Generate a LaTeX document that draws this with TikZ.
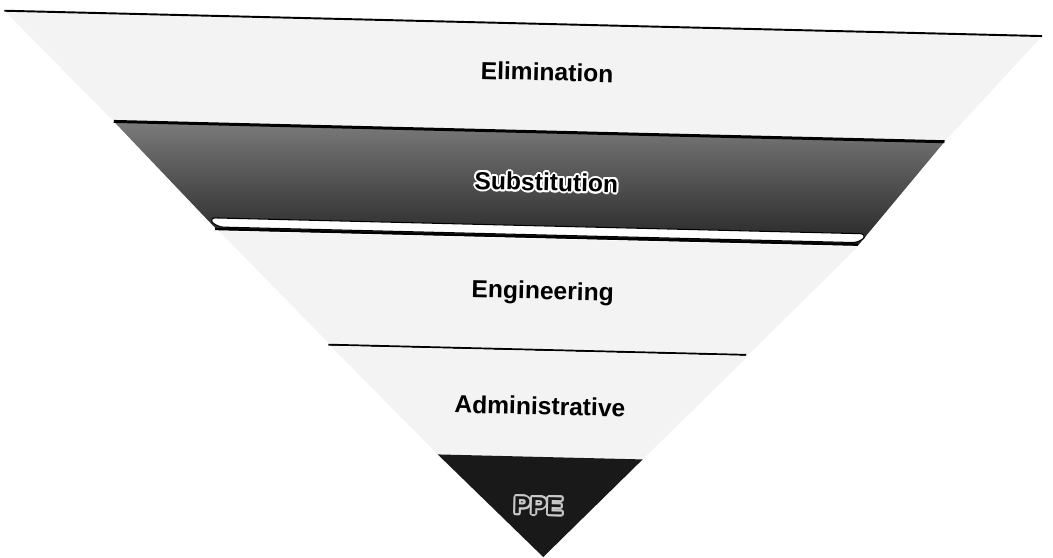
\documentclass[tikz,border=0pt]{standalone}
\usepackage{fontspec}
\setmainfont{Liberation Sans}
\usepackage[copies]{contour}
\usepackage{tikz}
\usetikzlibrary{calc}
\definecolor{myspeck}{RGB}{243,243,243}
\definecolor{mydark}{RGB}{25,25,25}
\definecolor{myhalo}{RGB}{200,200,200}
\contourlength{1.1pt}
\tikzset{
  lightband/.style={fill=myspeck, draw=none},
  darkband/.style={top color=black!52, bottom color=black!85, draw=none},
  ppeband/.style={fill=mydark, draw=none},
  edge/.style={line width=1.1pt, color=black},
  level/.style={font=\fontsize{14}{16}\selectfont\bfseries, text=black, inner sep=1pt, transform shape}
}

\begin{document}
\begin{tikzpicture}[x=0.02cm, y=-0.02cm]
  \fill[white] (0,0) rectangle (1053,557);
  \useasboundingbox (0,0) rectangle (1053,557);

  \begin{scope}[rotate around={-1.4:(545,280)}]
    % Elimination
    \fill[lightband] (-2,24) -- (1036,24) -- (941,132) -- (110,132) -- cycle;
    \draw[edge] (-2,24) -- (1036,24);
    \node[level] (elim) at (542,72) {Elimination};

    % Substitution
    \shade[darkband] (110,132) -- (941,132) -- (857,238) -- (216,238) -- cycle;
    \draw[edge, line width=1.7pt] (110,132) -- (941,132);
    \filldraw[fill=white, draw=black, line width=0.6pt, rounded corners=4pt]
      (207,226) -- (866,226) -- (859,235) -- (215,235) -- cycle;
    \draw[edge, line width=1.4pt] (214,237) -- (857,237);
    \node[level] (subst) at (544,183) {\contour{white}{Substitution}};

    % Engineering
    \fill[lightband] (218,239) -- (857,239) -- (750,350) -- (332,350) -- cycle;
    \draw[edge] (330,350) -- (748,350);
    \node[level] (eng) at (543,293) {Engineering};

    % Administrative
    \fill[lightband] (332,351) -- (750,351) -- (647,457) -- (442,457) -- cycle;
    \node[level] (admin) at (543,406) {Administrative};

    % PPE
    \fill[ppeband] (442,457) -- (647,457) -- (550,557) -- cycle;
    \node[level, text=mydark] (ppe) at (544,507) {\contour{myhalo}{PPE}};
  \end{scope}
\end{tikzpicture}
\end{document}
